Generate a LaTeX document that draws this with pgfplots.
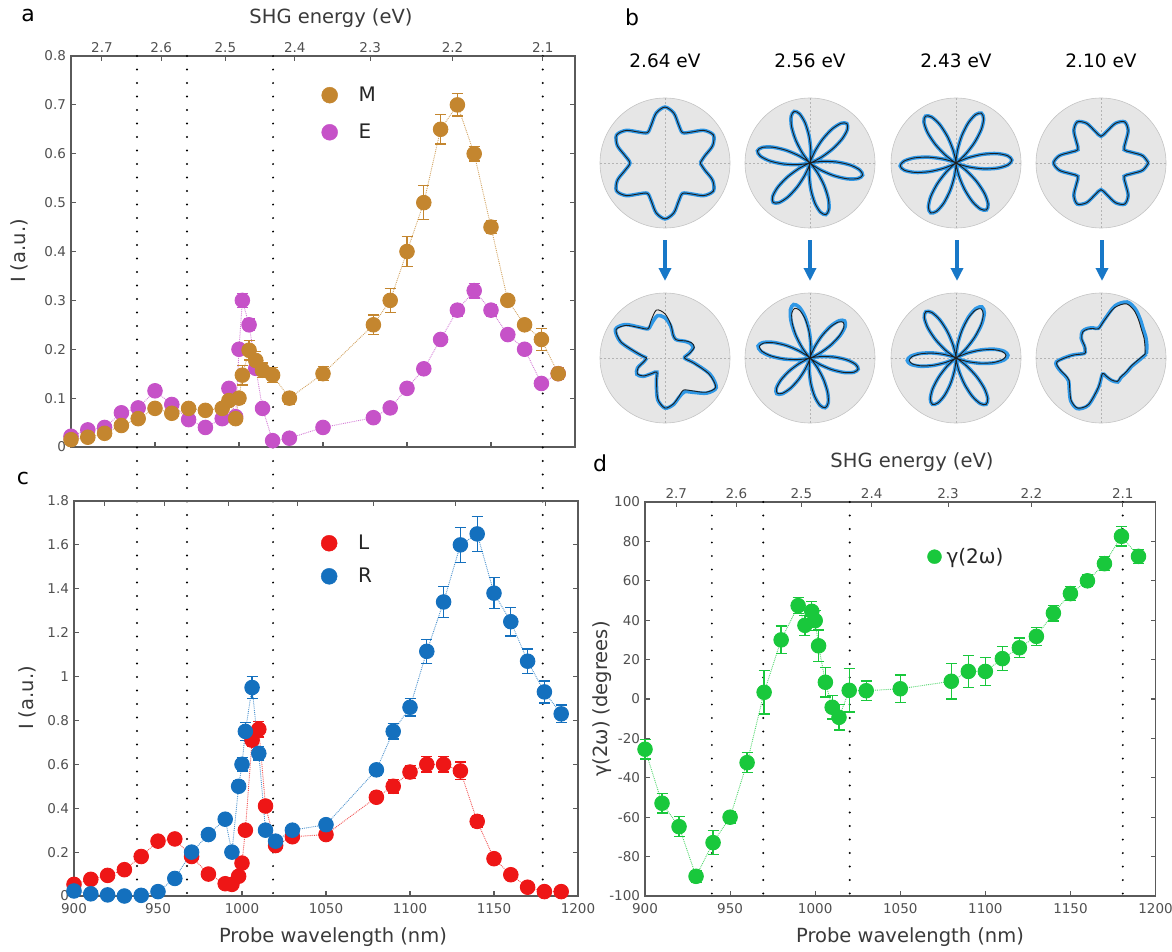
\documentclass[border=0pt]{standalone}
\usepackage{fontspec}
\setmainfont{DejaVu Sans}
\usepackage{pgfplots}
\pgfplotsset{compat=1.18}
\usepackage{pgfplotstable}
\usepgfplotslibrary{polar}
\usetikzlibrary{arrows.meta}

\definecolor{cM}{HTML}{C4862F}
\definecolor{cE}{HTML}{C652C8}
\definecolor{cL}{HTML}{EE1616}
\definecolor{cR}{HTML}{1470BE}
\definecolor{cG}{HTML}{19C83C}
\definecolor{axg}{HTML}{5A5A5A}
\definecolor{tkg}{HTML}{505050}
\definecolor{lblg}{HTML}{3A3A3A}
\definecolor{pblue}{HTML}{2F98E6}
\definecolor{arrblue}{HTML}{1878C8}
\definecolor{diskg}{HTML}{E6E6E6}
\definecolor{diskb}{HTML}{C4C4C4}
\definecolor{crossg}{HTML}{B4B4B4}
\definecolor{fitk}{HTML}{1E1E1E}

\newcommand{\fs}[1]{\fontsize{#1}{#1}\selectfont}

% ---------------- data ----------------
\pgfplotstableread[row sep=\\]{x y e\\
900 0.015 0.006\\ 910 0.020 0.006\\ 920 0.028 0.006\\ 930 0.044 0.007\\ 940 0.058 0.008\\
950 0.079 0.008\\ 960 0.069 0.007\\ 970 0.079 0.007\\ 980 0.075 0.007\\ 990 0.079 0.007\\
994 0.095 0.008\\ 998 0.058 0.007\\ 1000 0.100 0.010\\ 1002 0.147 0.020\\ 1006 0.198 0.020\\
1010 0.177 0.018\\ 1014 0.157 0.015\\ 1020 0.147 0.015\\ 1030 0.100 0.012\\ 1050 0.150 0.014\\
1080 0.250 0.020\\ 1090 0.300 0.025\\ 1100 0.400 0.030\\ 1110 0.500 0.035\\ 1120 0.650 0.030\\
1130 0.700 0.023\\ 1140 0.600 0.015\\ 1150 0.450 0.013\\ 1160 0.300 0.010\\ 1170 0.250 0.008\\
1180 0.220 0.022\\ 1190 0.150 0.012\\}\tM

\pgfplotstableread[row sep=\\]{x y e\\
900 0.022 0.005\\ 910 0.035 0.005\\ 920 0.040 0.005\\ 930 0.070 0.006\\ 940 0.080 0.006\\
950 0.115 0.010\\ 960 0.087 0.007\\ 970 0.056 0.006\\ 980 0.040 0.005\\ 990 0.058 0.006\\
994 0.120 0.008\\ 998 0.062 0.006\\ 1000 0.200 0.010\\ 1002 0.300 0.014\\ 1006 0.250 0.012\\
1010 0.161 0.010\\ 1014 0.079 0.006\\ 1020 0.013 0.005\\ 1030 0.018 0.005\\ 1050 0.040 0.006\\
1080 0.060 0.006\\ 1090 0.080 0.006\\ 1100 0.120 0.007\\ 1110 0.160 0.008\\ 1120 0.220 0.008\\
1130 0.280 0.012\\ 1140 0.320 0.015\\ 1150 0.280 0.012\\ 1160 0.230 0.010\\ 1170 0.200 0.008\\
1180 0.130 0.006\\ 1190 0.150 0.010\\}\tE

\pgfplotstableread[row sep=\\]{x y e\\
900 0.053 0.010\\ 910 0.076 0.010\\ 920 0.094 0.010\\ 930 0.120 0.010\\ 940 0.180 0.012\\
950 0.250 0.012\\ 960 0.260 0.012\\ 970 0.180 0.012\\ 980 0.100 0.010\\ 990 0.056 0.010\\
994 0.053 0.010\\ 998 0.090 0.010\\ 1000 0.150 0.012\\ 1002 0.300 0.020\\ 1006 0.710 0.030\\
1010 0.760 0.035\\ 1014 0.410 0.025\\ 1020 0.230 0.015\\ 1030 0.270 0.015\\ 1050 0.280 0.015\\
1080 0.450 0.025\\ 1090 0.500 0.030\\ 1100 0.565 0.030\\ 1110 0.600 0.035\\ 1120 0.600 0.035\\
1130 0.570 0.040\\ 1140 0.340 0.025\\ 1150 0.170 0.012\\ 1160 0.097 0.010\\ 1170 0.040 0.008\\
1180 0.020 0.008\\ 1190 0.020 0.008\\}\tL

\pgfplotstableread[row sep=\\]{x y e\\
900 0.023 0.010\\ 910 0.010 0.008\\ 920 0.005 0.008\\ 930 0.000 0.008\\ 940 0.003 0.008\\
950 0.020 0.010\\ 960 0.080 0.010\\ 970 0.200 0.012\\ 980 0.280 0.012\\ 990 0.350 0.015\\
994 0.200 0.012\\ 998 0.500 0.025\\ 1000 0.600 0.030\\ 1002 0.750 0.040\\ 1006 0.950 0.050\\
1010 0.650 0.030\\ 1014 0.300 0.015\\ 1020 0.250 0.015\\ 1030 0.300 0.015\\ 1050 0.325 0.020\\
1080 0.575 0.025\\ 1090 0.750 0.035\\ 1100 0.860 0.040\\ 1110 1.115 0.055\\ 1120 1.340 0.070\\
1130 1.600 0.080\\ 1140 1.650 0.080\\ 1150 1.380 0.070\\ 1160 1.250 0.065\\ 1170 1.070 0.055\\
1180 0.930 0.050\\ 1190 0.830 0.040\\}\tR

\pgfplotstableread[row sep=\\]{x y e\\
900 -25.5 5\\ 910 -52.9 5\\ 920 -64.8 5\\ 930 -90.0 3\\ 940 -72.9 6\\
950 -60.0 3\\ 960 -32.3 5\\ 970 3.4 11\\ 980 30.0 7\\ 990 47.4 4\\
994 37.4 5\\ 998 44.5 5\\ 1000 39.8 5\\ 1002 27.0 8\\ 1006 8.5 7.5\\
1010 -4.2 6\\ 1014 -9.3 6.5\\ 1020 4.4 11\\ 1030 4.2 5\\ 1050 5.2 7\\
1080 9.0 9\\ 1090 14.0 8\\ 1100 14.0 7\\ 1110 20.5 6\\ 1120 26.0 5\\
1130 31.8 4.5\\ 1140 43.6 4\\ 1150 53.5 3.5\\ 1160 60.0 3\\ 1170 68.7 3.5\\
1180 82.6 5\\ 1190 72.4 3.5\\}\tG

% polar patterns (angle in degrees, normalised radius)
\pgfplotstableread[row sep=\\]{a f\\
0 .54\\ 10 .62\\ 20 .78\\ 30 .86\\ 40 .78\\ 50 .62\\ 60 .54\\ 70 .62\\ 80 .78\\ 90 .86\\ 100 .78\\ 110 .62\\
120 .54\\ 130 .62\\ 140 .78\\ 150 .86\\ 160 .78\\ 170 .62\\ 180 .54\\ 190 .62\\ 200 .78\\ 210 .86\\ 220 .78\\ 230 .62\\
240 .54\\ 250 .62\\ 260 .78\\ 270 .86\\ 280 .78\\ 290 .62\\ 300 .54\\ 310 .62\\ 320 .78\\ 330 .86\\ 340 .78\\ 350 .62\\ 360 .54\\}\ptA

\pgfplotstableread[row sep=\\]{a f\\
17 0\\ 22 .056\\ 27 .208\\ 32 .415\\ 37 .623\\ 42 .774\\ 47 .83\\ 52 .774\\ 57 .623\\ 62 .415\\ 67 .208\\ 72 .056\\
77 0\\ 82 .056\\ 87 .208\\ 92 .415\\ 97 .623\\ 102 .774\\ 107 .83\\ 112 .774\\ 117 .623\\ 122 .415\\ 127 .208\\ 132 .056\\
137 0\\ 142 .056\\ 147 .208\\ 152 .415\\ 157 .623\\ 162 .774\\ 167 .83\\ 172 .774\\ 177 .623\\ 182 .415\\ 187 .208\\ 192 .056\\
197 0\\ 202 .056\\ 207 .208\\ 212 .415\\ 217 .623\\ 222 .774\\ 227 .83\\ 232 .774\\ 237 .623\\ 242 .415\\ 247 .208\\ 252 .056\\
257 0\\ 262 .056\\ 267 .208\\ 272 .415\\ 277 .623\\ 282 .774\\ 287 .83\\ 292 .774\\ 297 .623\\ 302 .415\\ 307 .208\\ 312 .056\\
317 0\\ 322 .056\\ 327 .208\\ 332 .415\\ 337 .623\\ 342 .774\\ 347 .83\\ 352 .774\\ 357 .623\\ 362 .415\\ 367 .208\\ 372 .056\\ 377 0\\}\ptB

\pgfplotstableread[row sep=\\]{a f\\
33 0\\ 38 .058\\ 43 .215\\ 48 .43\\ 53 .645\\ 58 .802\\ 63 .86\\ 68 .802\\ 73 .645\\ 78 .43\\ 83 .215\\ 88 .058\\
93 0\\ 98 .058\\ 103 .215\\ 108 .43\\ 113 .645\\ 118 .802\\ 123 .86\\ 128 .802\\ 133 .645\\ 138 .43\\ 143 .215\\ 148 .058\\
153 0\\ 158 .058\\ 163 .215\\ 168 .43\\ 173 .645\\ 178 .802\\ 183 .86\\ 188 .802\\ 193 .645\\ 198 .43\\ 203 .215\\ 208 .058\\
213 0\\ 218 .058\\ 223 .215\\ 228 .43\\ 233 .645\\ 238 .802\\ 243 .86\\ 248 .802\\ 253 .645\\ 258 .43\\ 263 .215\\ 268 .058\\
273 0\\ 278 .058\\ 283 .215\\ 288 .43\\ 293 .645\\ 298 .802\\ 303 .86\\ 308 .802\\ 313 .645\\ 318 .43\\ 323 .215\\ 328 .058\\
333 0\\ 338 .058\\ 343 .215\\ 348 .43\\ 353 .645\\ 358 .802\\ 363 .86\\ 368 .802\\ 373 .645\\ 378 .43\\ 383 .215\\ 388 .058\\ 393 0\\}\ptC

\pgfplotstableread[row sep=\\]{a f\\
0 .73\\ 10 .65\\ 20 .49\\ 30 .41\\ 40 .49\\ 50 .65\\ 60 .73\\ 70 .65\\ 80 .49\\ 90 .41\\ 100 .49\\ 110 .65\\
120 .73\\ 130 .65\\ 140 .49\\ 150 .41\\ 160 .49\\ 170 .65\\ 180 .73\\ 190 .65\\ 200 .49\\ 210 .41\\ 220 .49\\ 230 .65\\
240 .73\\ 250 .65\\ 260 .49\\ 270 .41\\ 280 .49\\ 290 .65\\ 300 .73\\ 310 .65\\ 320 .49\\ 330 .41\\ 340 .49\\ 350 .65\\ 360 .73\\}\ptD

\pgfplotstableread[row sep=\\]{a f d\\
-180 .28 .28\\ -170 .33 .33\\ -160 .44 .45\\ -150 .49 .50\\ -140 .43 .44\\ -130 .31 .31\\ -120 .25 .25\\
-110 .38 .39\\ -100 .64 .65\\ -90 .77 .77\\ -80 .72 .73\\ -70 .63 .64\\ -60 .57 .60\\ -50 .66 .69\\
-40 .82 .84\\ -30 .90 .91\\ -20 .72 .74\\ -10 .45 .46\\ 0 .30 .30\\ 10 .38 .37\\ 20 .48 .46\\
30 .47 .45\\ 40 .41 .40\\ 50 .35 .35\\ 60 .33 .33\\ 70 .37 .37\\ 80 .52 .50\\ 90 .68 .62\\
100 .75 .66\\ 110 .62 .58\\ 120 .52 .52\\ 130 .61 .62\\ 140 .78 .80\\ 150 .87 .88\\ 160 .72 .73\\
170 .43 .44\\ 180 .28 .28\\}\pbA

\pgfplotstableread[row sep=\\]{a f d\\
17 0 0\\ 22 .050 .052\\ 27 .188 .195\\ 32 .375 .39\\ 37 .563 .585\\ 42 .700 .728\\ 47 .75 .78\\ 52 .700 .728\\ 57 .563 .585\\ 62 .375 .39\\ 67 .188 .195\\ 72 .050 .052\\
77 0 0\\ 82 .054 .058\\ 87 .2 .215\\ 92 .4 .43\\ 97 .6 .645\\ 102 .746 .802\\ 107 .8 .86\\ 112 .746 .802\\ 117 .6 .645\\ 122 .4 .43\\ 127 .2 .215\\ 132 .054 .058\\
137 0 0\\ 142 .054 .055\\ 147 .2 .205\\ 152 .4 .41\\ 157 .6 .615\\ 162 .746 .765\\ 167 .8 .82\\ 172 .746 .765\\ 177 .6 .615\\ 182 .4 .41\\ 187 .2 .205\\ 192 .054 .055\\
197 0 0\\ 202 .050 .050\\ 207 .185 .188\\ 212 .37 .375\\ 217 .555 .563\\ 222 .69 .70\\ 227 .74 .75\\ 232 .69 .70\\ 237 .555 .563\\ 242 .37 .375\\ 247 .185 .188\\ 252 .050 .050\\
257 0 0\\ 262 .054 .054\\ 267 .2 .2\\ 272 .4 .4\\ 277 .6 .6\\ 282 .746 .746\\ 287 .8 .8\\ 292 .746 .746\\ 297 .6 .6\\ 302 .4 .4\\ 307 .2 .2\\ 312 .054 .054\\
317 0 0\\ 322 .051 .051\\ 327 .19 .19\\ 332 .38 .38\\ 337 .57 .57\\ 342 .709 .709\\ 347 .76 .76\\ 352 .709 .709\\ 357 .57 .57\\ 362 .38 .38\\ 367 .19 .19\\ 372 .051 .051\\ 377 0 0\\}\pbB

\pgfplotstableread[row sep=\\]{a f d\\
33 0 0\\ 38 .057 .059\\ 43 .213 .22\\ 48 .425 .44\\ 53 .638 .66\\ 58 .793 .821\\ 63 .85 .88\\ 68 .793 .821\\ 73 .638 .66\\ 78 .425 .44\\ 83 .213 .22\\ 88 .057 .059\\
93 0 0\\ 98 .057 .057\\ 103 .213 .213\\ 108 .425 .425\\ 113 .638 .638\\ 118 .793 .793\\ 123 .85 .85\\ 128 .793 .793\\ 133 .638 .638\\ 138 .425 .425\\ 143 .213 .213\\ 148 .057 .057\\
153 0 0\\ 158 .048 .050\\ 163 .18 .188\\ 168 .36 .375\\ 173 .54 .563\\ 178 .672 .70\\ 183 .72 .75\\ 188 .672 .70\\ 193 .54 .563\\ 198 .36 .375\\ 203 .18 .188\\ 208 .048 .050\\
213 0 0\\ 218 .054 .054\\ 223 .2 .2\\ 228 .4 .4\\ 233 .6 .6\\ 238 .746 .746\\ 243 .8 .8\\ 248 .746 .746\\ 253 .6 .6\\ 258 .4 .4\\ 263 .2 .2\\ 268 .054 .054\\
273 0 0\\ 278 .057 .057\\ 283 .213 .213\\ 288 .425 .425\\ 293 .638 .638\\ 298 .793 .793\\ 303 .85 .85\\ 308 .793 .793\\ 313 .638 .638\\ 318 .425 .425\\ 323 .213 .213\\ 328 .057 .057\\
333 0 0\\ 338 .052 .054\\ 343 .193 .2\\ 348 .385 .4\\ 353 .578 .6\\ 358 .718 .746\\ 363 .77 .8\\ 368 .718 .746\\ 373 .578 .6\\ 378 .385 .4\\ 383 .193 .2\\ 388 .052 .054\\ 393 0 0\\}\pbC

\pgfplotstableread[row sep=\\]{a f d\\
5 .68 .70\\ 15 .70 .73\\ 25 .73 .76\\ 35 .76 .79\\ 45 .82 .85\\ 55 .89 .92\\ 65 .92 .95\\ 75 .80 .83\\
85 .58 .59\\ 95 .45 .46\\ 105 .47 .48\\ 115 .49 .50\\ 125 .49 .50\\ 135 .42 .43\\ 145 .30 .31\\ 155 .27 .27\\
165 .26 .27\\ 175 .45 .46\\ 185 .68 .69\\ 195 .66 .67\\ 205 .61 .62\\ 215 .60 .61\\ 225 .68 .69\\ 235 .80 .81\\
245 .85 .86\\ 255 .74 .75\\ 265 .45 .46\\ 275 .24 .25\\ 285 .28 .29\\ 295 .37 .38\\ 305 .44 .45\\ 315 .42 .43\\
325 .43 .44\\ 335 .45 .46\\ 345 .48 .49\\ 355 .55 .57\\ 365 .68 .70\\}\pbD

% ---------------- styles ----------------
\pgfplotsset{
  panel/.style={
    scale only axis, clip=false, anchor=south west,
    xmin=900, xmax=1200,
    axis line style={draw=axg, line width=1.3pt},
    every tick/.style={draw=axg, line width=1.1pt},
    major tick length=5pt, tick align=inside,
    xtick={950,1000,1050,1100,1150},
    xtick pos=left,
    ticklabel style={font=\fs{13.5}, text=tkg},
    yticklabel style={xshift=-1.5pt},
  },
  energy/.style={
    scale only axis, clip=false, anchor=south west,
    xmin=900, xmax=1200, ymin=0, ymax=1,
    axis line style={draw=none},
    every tick/.style={draw=axg, line width=1.1pt},
    major tick length=5pt, tick align=inside,
    xtick={918.4,953.7,991.9,1033.2,1078.1,1127.1,1180.8},
    xtick pos=right, xticklabel pos=right,
    ytick=\empty,
    ticklabel style={font=\fs{13.5}, text=tkg},
  },
  ebar/.style={
    /pgfplots/error bars/y dir=both,
    /pgfplots/error bars/y explicit,
    /pgfplots/error bars/error bar style={solid, line width=1.3pt, draw=#1},
    /pgfplots/error bars/error mark options={solid, rotate=90, mark size=5.5pt, line width=1.3pt, draw=#1},
  },
  ser/.style={color=#1!75, densely dotted, line width=0.9pt, mark=*, mark size=7.3pt,
    mark options={solid, draw=#1, fill=#1}, forget plot, ebar=#1},
  vline/.style={black, line width=2.2pt, line cap=round, dash pattern=on 0pt off 13.5pt, forget plot},
  leg/.style 2 args={legend style={draw=none, fill=none, inner sep=0pt, font=\fs{20}, text=black!85,
      row sep=#2},
    legend cell align=left,
    legend image code/.code={\draw[##1] plot coordinates {(0pt,0pt)}; \path[draw=none,fill=none] (0pt,0pt) rectangle (#1,0.1pt);}},
  mini/.style={scale only axis, width=130pt, height=130pt, xmin=-1, xmax=1, ymin=-1, ymax=1,
    hide axis, clip=false, anchor=center},
}

\newcommand{\polarplot}[4]{%
\begin{axis}[mini, at={(#1pt,-#2pt)}]
  \fill[diskg] (axis cs:0,0) circle[radius=65pt];
  \draw[diskb, line width=0.6pt] (axis cs:0,0) circle[radius=65pt];
  \draw[crossg, dash pattern=on 2pt off 2pt, line width=0.5pt] (axis cs:-1,0) -- (axis cs:1,0);
  \draw[crossg, dash pattern=on 2pt off 2pt, line width=0.5pt] (axis cs:0,-1) -- (axis cs:0,1);
  \addplot[pblue, line width=3.6pt, smooth, data cs=polar] table[x index=0, y index=#4]{#3};
  \addplot[fitk, line width=0.9pt, smooth, data cs=polar] table[x index=0, y index=1]{#3};
\end{axis}}

\begin{document}
\begin{tikzpicture}
\path[use as bounding box] (0pt,0pt) rectangle (1172pt,-952pt);

% ---------------- panel a ----------------
\begin{axis}[panel, at={(71pt,-447pt)}, width=504pt, height=391pt,
  ymin=0, ymax=0.8, ytick={0,0.1,0.2,0.3,0.4,0.5,0.6,0.7,0.8},
  yticklabels={0,0.1,0.2,0.3,0.4,0.5,0.6,0.7,0.8}, xticklabels={},
  leg={27pt}{17pt}, legend style={at={(0.497,0.926)}, anchor=north west}]
  \addlegendimage{only marks, mark=*, mark size=8pt, cM}\addlegendentry{M}
  \addlegendimage{only marks, mark=*, mark size=8pt, cE}\addlegendentry{E}
  \addplot[vline] coordinates {(939.3,0.8) (939.3,-0.915)};
  \addplot[vline] coordinates {(969,0.8) (969,-0.915)};
  \addplot[vline] coordinates {(1020.3,0.8) (1020.3,-0.915)};
  \addplot[vline] coordinates {(1180.8,0.8) (1180.8,-0.915)};
  \addplot[ser=cE] table[x index=0, y index=1, y error index=2]{\tE};
  \addplot[ser=cM] table[x index=0, y index=1, y error index=2]{\tM};
\end{axis}
\begin{axis}[energy, at={(71pt,-447pt)}, width=504pt, height=391pt,
  xticklabels={2.7,2.6,2.5,2.4,2.3,2.2,2.1}]
\end{axis}

% ---------------- panel c ----------------
\begin{axis}[panel, at={(74pt,-896pt)}, width=504pt, height=395pt,
  ymin=0, ymax=1.8, ytick={0,0.2,0.4,0.6,0.8,1,1.2,1.4,1.6,1.8},
  yticklabels={0,0.2,0.4,0.6,0.8,1,1.2,1.4,1.6,1.8},
  xtick={900,950,1000,1050,1100,1150,1200},
  xticklabels={900,950,1000,1050,1100,1150,1200},
  xticklabel style={yshift=-4pt},
  leg={27pt}{13pt}, legend style={at={(0.49,0.919)}, anchor=north west}]
  \addlegendimage{only marks, mark=*, mark size=8pt, cL}\addlegendentry{L}
  \addlegendimage{only marks, mark=*, mark size=8pt, cR}\addlegendentry{R}
  \addplot[ser=cL] table[x index=0, y index=1, y error index=2]{\tL};
  \addplot[ser=cR] table[x index=0, y index=1, y error index=2]{\tR};
\end{axis}
\begin{axis}[energy, at={(74pt,-896pt)}, width=504pt, height=395pt,
  xticklabels={}]
\end{axis}

% ---------------- panel d ----------------
\begin{axis}[panel, at={(645pt,-896pt)}, width=510.5pt, height=394pt,
  ymin=-100, ymax=100, ytick={-100,-80,-60,-40,-20,0,20,40,60,80,100},
  yticklabels={-100,-80,-60,-40,-20,0,20,40,60,80,100},
  xtick={900,950,1000,1050,1100,1150,1200},
  xticklabels={900,950,1000,1050,1100,1150,1200},
  xticklabel style={yshift=-4pt},
  leg={10pt}{13pt}, legend style={at={(0.553,0.888)}, anchor=north west}]
  \addlegendimage{only marks, mark=*, mark size=7pt, cG}\addlegendentry{γ(2ω)}
  \addplot[vline] coordinates {(939.3,100) (939.3,-100)};
  \addplot[vline] coordinates {(969.5,100) (969.5,-100)};
  \addplot[vline] coordinates {(1020.3,100) (1020.3,-100)};
  \addplot[vline] coordinates {(1180.8,100) (1180.8,-100)};
  \addplot[ser=cG] table[x index=0, y index=1, y error index=2]{\tG};
\end{axis}
\begin{axis}[energy, at={(645pt,-896pt)}, width=510.5pt, height=394pt,
  xticklabels={2.7,2.6,2.5,2.4,2.3,2.2,2.1}]
\end{axis}

% ---------------- panel b ----------------
\polarplot{665}{163}{\ptA}{1}
\polarplot{810}{163}{\ptB}{1}
\polarplot{956}{163}{\ptC}{1}
\polarplot{1101}{163}{\ptD}{1}
\polarplot{665}{358}{\pbA}{2}
\polarplot{810}{358}{\pbB}{2}
\polarplot{956}{358}{\pbC}{2}
\polarplot{1101}{358}{\pbD}{2}

\foreach \xx in {665,810,957,1102}{
  \draw[arrblue, line width=4pt, -{Triangle[width=12pt,length=13pt]}] (\xx pt,-240pt) -- (\xx pt,-281pt);
}

% ---------------- texts ----------------
\node[font=\fs{18.5}, anchor=base] at (665pt,-68pt) {2.64 eV};
\node[font=\fs{18.5}, anchor=base] at (810pt,-68pt) {2.56 eV};
\node[font=\fs{18.5}, anchor=base] at (956pt,-68pt) {2.43 eV};
\node[font=\fs{18.5}, anchor=base] at (1101pt,-68pt) {2.10 eV};

\node[font=\fs{22}] at (28pt,-15pt) {a};
\node[font=\fs{22}] at (632pt,-17pt) {b};
\node[font=\fs{22}] at (23pt,-478pt) {c};
\node[font=\fs{22}] at (600pt,-463pt) {d};

\node[font=\fs{19.5}, text=lblg, anchor=base] at (331pt,-23.5pt) {SHG energy (eV)};
\node[font=\fs{19.5}, text=lblg, anchor=base] at (912pt,-467pt) {SHG energy (eV)};
\node[font=\fs{19.5}, text=lblg, rotate=90] at (19pt,-251pt) {I (a.u.)};
\node[font=\fs{19.5}, text=lblg, rotate=90] at (27pt,-698pt) {I (a.u.)};
\node[font=\fs{19.5}, text=lblg, rotate=90] at (602pt,-699pt) {γ(2ω) (degrees)};
\node[font=\fs{19.5}, text=lblg, anchor=base] at (333pt,-942pt) {Probe wavelength (nm)};
\node[font=\fs{19.5}, text=lblg, anchor=base] at (910pt,-942pt) {Probe wavelength (nm)};
\end{tikzpicture}
\end{document}
